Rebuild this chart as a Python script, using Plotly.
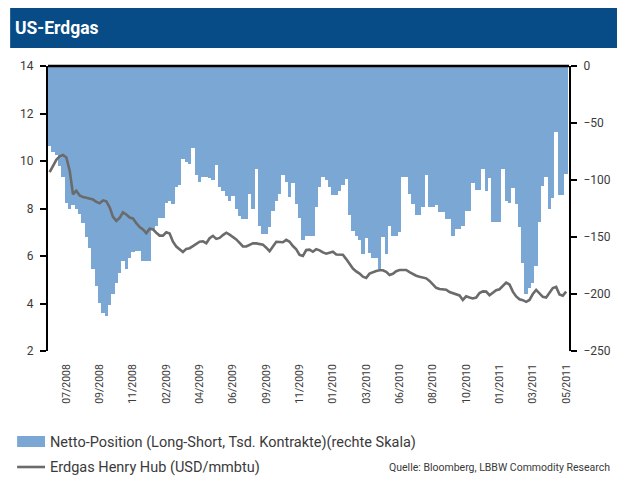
import pandas as pd
import plotly.graph_objects as go

# ---------------- data ----------------
week_start = "2008-06-03"
n_weeks = 156
weeks = pd.date_range(week_start, periods=n_weeks, freq="7D")

netto_position = [
    -70, -75, -78, -88, -97, -120, -125, -122, -125, -130,
    -138, -150, -160, -178, -193, -208, -217, -219, -210, -200,
    -190, -182, -171, -178, -168, -163, -162, -162, -171, -171,
    -171, -144, -140, -133, -133, -120, -118, -121, -106, -104,
    -82, -84, -86, -72, -96, -102, -97, -97, -98, -100,
    -87, -106, -110, -114, -118, -114, -125, -132, -134, -134,
    -112, -125, -90, -140, -147, -147, -141, -127, -118, -112,
    -96, -102, -115, -103, -121, -133, -153, -149, -149, -149,
    -124, -106, -97, -100, -106, -113, -113, -110, -104, -99,
    -131, -145, -149, -153, -165, -151, -164, -168, -168, -178,
    -150, -165, -140, -149, -149, -146, -97, -97, -112, -121,
    -131, -131, -124, -96, -124, -124, -122, -128, -128, -134,
    -134, -149, -143, -143, -140, -127, -127, -103, -109, -109,
    -90, -110, -98, -137, -137, -137, -90, -118, -120, -107,
    -121, -141, -173, -200, -195, -190, -175, -137, -105, -97,
    -125, -116, -58, -113, -113, -95,
]

henry_hub = [
    9.53, 9.80, 10.05, 10.20, 10.25, 10.15, 9.60, 8.60, 8.75, 8.55,
    8.48, 8.45, 8.41, 8.38, 8.28, 8.22, 8.34, 8.30, 8.05, 7.65,
    7.48, 7.60, 7.84, 7.75, 7.62, 7.58, 7.38, 7.22, 7.12, 6.96,
    7.15, 7.12, 6.98, 6.86, 6.86, 7.00, 6.95, 6.60, 6.40, 6.28,
    6.17, 6.30, 6.33, 6.42, 6.50, 6.60, 6.62, 6.54, 6.75, 6.85,
    6.72, 6.76, 6.88, 6.98, 6.90, 6.80, 6.70, 6.55, 6.40, 6.40,
    6.46, 6.53, 6.53, 6.51, 6.48, 6.35, 6.20, 6.40, 6.60, 6.59,
    6.58, 6.68, 6.60, 6.42, 6.28, 6.05, 6.00, 6.25, 6.27, 6.18,
    6.29, 6.24, 6.15, 6.10, 6.15, 6.18, 6.06, 6.05, 6.05, 5.87,
    5.65, 5.47, 5.35, 5.26, 5.13, 5.08, 5.26, 5.33, 5.37, 5.40,
    5.40, 5.33, 5.20, 5.25, 5.36, 5.41, 5.41, 5.41, 5.32, 5.23,
    5.17, 5.13, 5.11, 5.06, 4.95, 4.80, 4.66, 4.61, 4.61, 4.58,
    4.48, 4.43, 4.38, 4.34, 4.15, 4.30, 4.25, 4.21, 4.25, 4.44,
    4.51, 4.50, 4.35, 4.45, 4.56, 4.60, 4.72, 4.88, 4.80, 4.50,
    4.30, 4.18, 4.14, 4.07, 4.15, 4.40, 4.57, 4.42, 4.28, 4.25,
    4.45, 4.65, 4.70, 4.38, 4.33, 4.50,
]

tick_week_index = [5, 15, 25, 35, 45, 55, 65, 75, 85, 95, 105, 115, 125, 135, 145, 155]
tick_labels = ["07/2008", "09/2008", "11/2008", "02/2009", "04/2009", "06/2009",
               "09/2009", "11/2009", "01/2010", "03/2010", "06/2010", "08/2010",
               "10/2010", "01/2011", "03/2011", "05/2011"]

left_ticks = [2, 4, 6, 8, 10, 12, 14]
right_ticks = [0, -50, -100, -150, -200, -250]

title_text = "US-Erdgas"
legend_bar = "Netto-Position (Long-Short, Tsd. Kontrakte)(rechte Skala)"
legend_line = "Erdgas Henry Hub (USD/mmbtu)"
source_text = "Quelle: Bloomberg, LBBW Commodity Research"

# ---------------- style ----------------
OFF = 8                      # page body margin
W, H = 625 - OFF, 481 - OFF
PLOT_X0, PLOT_X1, PLOT_Y0, PLOT_Y1 = 46, 569, 66, 351   # page pixels
L = PLOT_X0 - OFF
T = PLOT_Y0 - OFF
R = W - (PLOT_X1 - OFF)
B = H - (PLOT_Y1 - OFF)
PW, PH = W - L - R, H - T - B
BAR_COLOR = "#7BA7D4"
LINE_COLOR = "#6B6B6B"
TITLE_BG = "#074C86"
FONT = "Roboto, Liberation Sans, sans-serif"
TXT = "#3A3A3A"


def px(x):
    return (x - OFF - L) / PW


def py(y):
    return ((PLOT_Y1 - OFF) - (y - OFF)) / PH


fig = go.Figure()
fig.add_trace(go.Bar(
    x=weeks, y=netto_position, name=legend_bar,
    marker=dict(color=BAR_COLOR, line=dict(width=0)),
    width=7 * 24 * 3600 * 1000, yaxis="y",
))
fig.add_trace(go.Scatter(
    x=weeks, y=henry_hub, name=legend_line, mode="lines",
    line=dict(color=LINE_COLOR, width=2.6), yaxis="y2",
))

x0 = weeks[0] - pd.Timedelta(days=3.5)
x1 = weeks[-1] + pd.Timedelta(days=6)

fig.update_layout(
    width=W, height=H,
    margin=dict(l=L, r=R, t=T, b=B, pad=0),
    paper_bgcolor="white", plot_bgcolor="white",
    showlegend=False, bargap=0,
    font=dict(family=FONT, color=TXT, size=12),
    xaxis=dict(
        type="date", range=[x0, x1],
        tickvals=[weeks[i] for i in tick_week_index], ticktext=tick_labels,
        tickangle=-90, tickfont=dict(size=10.5, color=TXT),
        showgrid=False, zeroline=False, showline=False,
        ticks="", ticklabelstandoff=10,
    ),
    yaxis=dict(
        range=[-250, 0], side="right", tickvals=right_ticks,
        showgrid=False, zeroline=False, showline=True, linecolor="black",
        linewidth=2, ticks="outside", ticklen=6, tickwidth=2, tickcolor="black",
        tickfont=dict(size=12, color=TXT), ticklabelstandoff=4,
    ),
    yaxis2=dict(
        range=[2, 14], side="left", overlaying="y", tickvals=left_ticks,
        showgrid=False, zeroline=False, showline=True, linecolor="black",
        linewidth=2, ticks="outside", ticklen=6, tickwidth=2, tickcolor="black",
        tickfont=dict(size=12, color=TXT), ticklabelstandoff=4,
    ),
)

shapes = [
    # title bar
    dict(type="rect", xref="paper", yref="paper", x0=px(8), x1=px(630), y0=py(48), y1=py(8),
         fillcolor=TITLE_BG, line=dict(width=0), layer="above"),
    # top border of plot
    dict(type="line", xref="paper", yref="paper", x0=0, x1=1, y0=1, y1=1,
         line=dict(color="black", width=2.5), layer="above"),
    # legend swatch: bars
    dict(type="rect", xref="paper", yref="paper", x0=px(15), x1=px(43), y0=py(447), y1=py(436),
         fillcolor=BAR_COLOR, line=dict(width=0)),
    # legend swatch: line
    dict(type="line", xref="paper", yref="paper", x0=px(15), x1=px(43), y0=py(467), y1=py(467),
         line=dict(color=LINE_COLOR, width=2.6)),
]

annotations = [
    dict(text=f"<b>{title_text}</b>", xref="paper", yref="paper", x=px(11), y=py(28),
         xanchor="left", yanchor="middle", showarrow=False,
         font=dict(size=17.5, color="white", family=FONT)),
    dict(text=legend_bar, xref="paper", yref="paper", x=px(46), y=py(442),
         xanchor="left", yanchor="middle", showarrow=False,
         font=dict(size=14.5, color=TXT, family=FONT)),
    dict(text=legend_line, xref="paper", yref="paper", x=px(46), y=py(467),
         xanchor="left", yanchor="middle", showarrow=False,
         font=dict(size=14.5, color=TXT, family=FONT)),
    dict(text=source_text, xref="paper", yref="paper", x=px(612), y=py(467),
         xanchor="right", yanchor="middle", showarrow=False,
         font=dict(size=10.5, color=TXT, family=FONT)),
]

fig.update_layout(shapes=shapes, annotations=annotations)
fig.write_html("out.html")
